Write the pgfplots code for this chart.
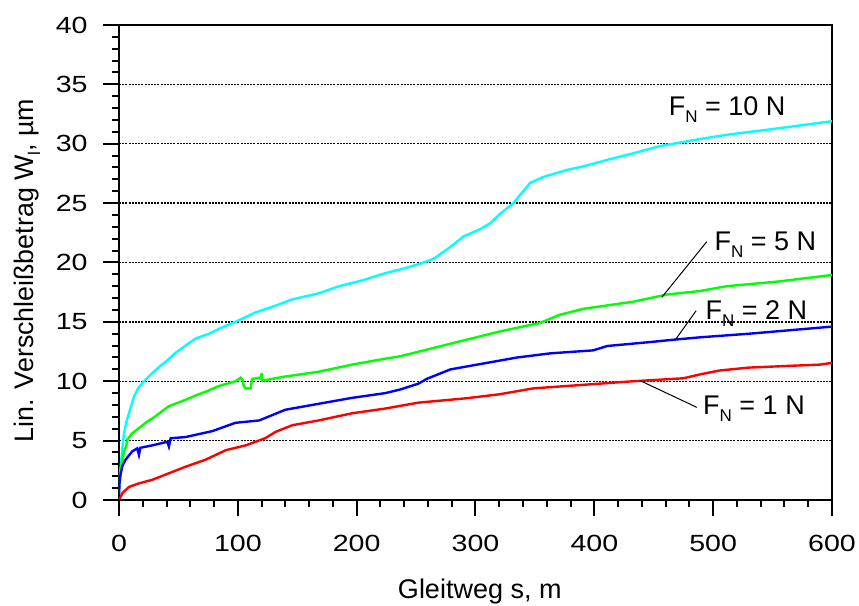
\documentclass[border=0pt]{standalone}
\usepackage{fontspec}
\setmainfont{Liberation Sans}
\usepackage{graphicx}
\usepackage{pgfplots}
\pgfplotsset{compat=1.18}

\definecolor{cN10}{RGB}{0,255,255}
\definecolor{cN5}{RGB}{0,255,0}
\definecolor{cN2}{RGB}{0,0,255}
\definecolor{cN1}{RGB}{255,0,0}

\newcommand{\lbl}{\fontsize{13.5}{16}\selectfont}
\newcommand{\sub}[1]{\raisebox{-3.5pt}{\fontsize{8.5}{9}\selectfont #1}}

\begin{document}
\begin{tikzpicture}
\useasboundingbox (-59.5pt,-53pt) rectangle (370pt,250pt);
\begin{axis}[
    scale only axis, width=356.5pt, height=237.5pt,
    xmin=0, xmax=600, ymin=0, ymax=40,
    xtick={0,100,...,600}, ytick={0,5,...,40},
    minor x tick num=4, minor y tick num=4,
    tick align=outside, xtick pos=bottom, ytick pos=left,
    major tick length=8pt, minor tick length=3.5pt,
    axis line style={line width=1pt},
    every tick/.style={black, line width=1pt},
    ymajorgrids,
    major grid style={black, line width=0.7pt, dash pattern=on 1pt off 0.6pt},
    /pgf/number format/assume math mode=true,
    tick label style={font=\fontsize{11.7}{13}\selectfont, inner sep=0pt},
    xticklabel={\scalebox{1.22}[1]{\pgfmathprintnumber{\tick}}},
    yticklabel={\scalebox{1.22}[1]{\pgfmathprintnumber{\tick}}},
    yticklabel style={anchor=east, xshift=-7.5pt},
    xticklabel style={anchor=north, yshift=-9.5pt},
    every axis x label/.style={at={(axis description cs:0.506,-0.2084)}, anchor=base, font=\lbl},
    every axis y label/.style={at={(axis description cs:-0.1206,0.483)}, rotate=90, anchor=base, font=\fontsize{13.4}{16}\selectfont},
    xlabel={Gleitweg s, m},
    ylabel={Lin. Verschleißbetrag W\sub{l}, µm},
    no markers,
    every axis plot/.append style={line width=1.2pt},
]
% F_N = 10 N
\addplot[cN10] coordinates {
(0,0.6) (0.5,2) (1.4,2.8) (3,4.5) (4.2,5.6) (6,6.5) (8.4,7.3) (12.6,8.7) (16,9.4) (21,10) (27,10.6) (33.7,11.2) (40,11.7) (47.7,12.4) (56,13) (64.5,13.6) (75.7,14) (86,14.5) (98,15) (115,15.8) (130,16.3) (146,16.9) (168,17.4) (185,18) (205,18.5) (224,19.1) (240,19.5) (253.4,19.9) (264.7,20.3) (278.7,21.3) (290,22.2) (303.8,22.8) (312.3,23.3) (320.7,24.1) (332,25) (337.6,25.7) (346,26.7) (357,27.2) (377,27.8) (391,28.1) (413,28.7) (433,29.2) (455,29.8) (489,30.4) (511,30.75) (555,31.3) (600,31.9)
};
% F_N = 5 N
\addplot[cN5] coordinates {
(0,1.5) (0.5,2) (1.4,2.5) (4.2,4.1) (6,4.5) (7,5.1) (11,5.6) (22.4,6.5) (30,7) (42,7.9) (55,8.4) (64.5,8.8) (75,9.2) (84,9.6) (98,10.0) (102.4,10.3) (104,10.1) (105,9.6) (106.6,9.4) (110.8,9.4) (112,10.2) (118,10.3) (119.5,10.2) (120,10.7) (120.6,10.05) (140,10.4) (168,10.8) (196,11.4) (224,11.9) (236.5,12.1) (264.6,12.8) (292.6,13.5) (320.7,14.2) (354,14.9) (371,15.6) (390.8,16.1) (432.8,16.7) (460.9,17.3) (489,17.6) (511,18.0) (555,18.4) (600,18.95)
};
% F_N = 2 N
\addplot[cN2] coordinates {
(0,0.4) (0.5,1.5) (1.4,2.2) (3,2.9) (5.6,3.4) (11.2,4.1) (15.4,4.35) (16.8,3.8) (18,4.4) (28,4.6) (40.7,4.9) (42,4.5) (43.5,5.2) (56,5.3) (78.5,5.8) (98,6.5) (118,6.7) (140,7.6) (168,8.1) (196,8.6) (224,9.0) (236.5,9.3) (252,9.8) (259,10.2) (279,11.0) (307,11.5) (335,12.0) (363,12.35) (399,12.6) (411,12.97) (447,13.3) (467,13.5) (489,13.7) (530,14.0) (565,14.3) (600,14.6)
};
% F_N = 1 N
\addplot[cN1] coordinates {
(0,0) (3,0.6) (8.4,1.1) (16.8,1.4) (28,1.7) (42,2.25) (56,2.8) (73,3.4) (90,4.2) (106.6,4.6) (123,5.2) (132,5.75) (146,6.3) (168,6.7) (196,7.3) (224,7.7) (252,8.2) (292.6,8.57) (320,8.9) (348.7,9.4) (390.8,9.7) (432.8,10.0) (474.9,10.25) (490,10.6) (505,10.9) (530,11.15) (565,11.3) (590,11.4) (600,11.55)
};

% labels with leader lines
\draw[line width=0.5pt] (axis cs:494.6,21.75) -- (axis cs:456.8,17.07);
\draw[line width=0.5pt] (axis cs:485.7,15.94) -- (axis cs:468,13.47);
\draw[line width=0.5pt] (axis cs:486.3,7.8) -- (axis cs:438.6,10.05);
\node[anchor=base west, inner sep=0pt, font=\lbl] at (axis cs:462.4,32.4) {F\sub{N} = 10 N};
\node[anchor=base west, inner sep=0pt, font=\lbl] at (axis cs:500.8,21.0) {F\sub{N} = 5 N};
\node[anchor=base west, inner sep=0pt, font=\lbl] at (axis cs:493.3,15.2) {F\sub{N} = 2 N};
\node[anchor=base west, inner sep=0pt, font=\lbl] at (axis cs:491.3,7.2) {F\sub{N} = 1 N};
\end{axis}
\end{tikzpicture}
\end{document}
